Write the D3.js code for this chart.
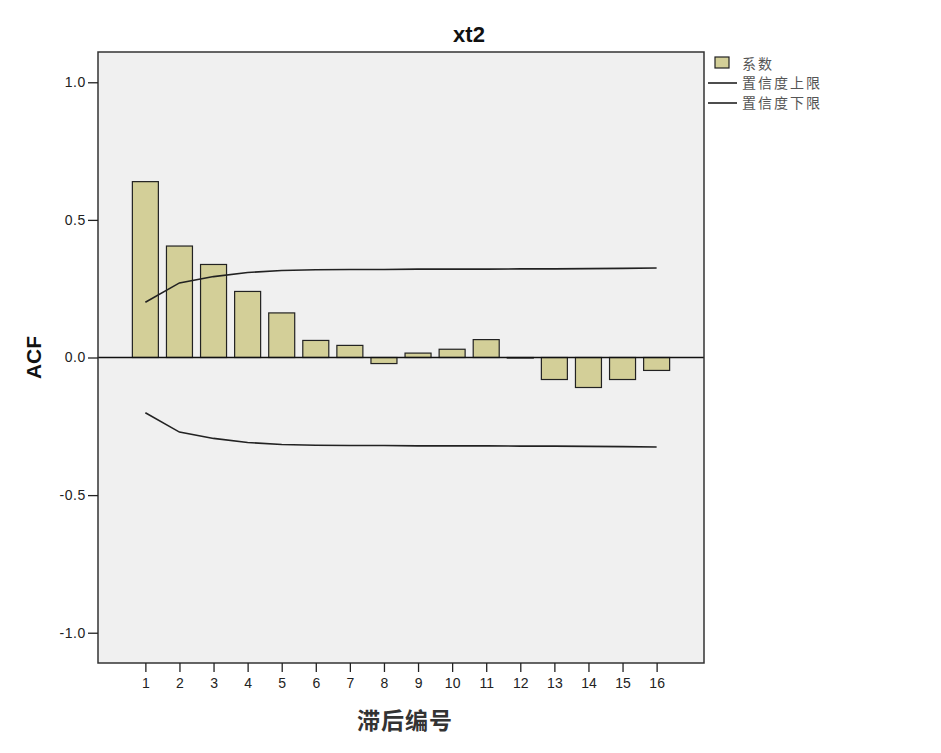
<!DOCTYPE html>
<html><head><meta charset="utf-8">
<script src="https://cdn.jsdelivr.net/npm/d3@7"></script>
<style>body{margin:0;background:#fff;} svg{display:block;}</style>
</head><body>
<svg id="chart" width="941" height="753"></svg>
<script>
const lags = [1,2,3,4,5,6,7,8,9,10,11,12,13,14,15,16];
const acf = [0.639,0.405,0.338,0.240,0.162,0.062,0.044,-0.022,0.016,0.030,0.065,-0.002,-0.080,-0.109,-0.080,-0.047];
const upper = [0.201,0.271,0.294,0.309,0.316,0.319,0.320,0.320,0.321,0.321,0.321,0.322,0.322,0.323,0.324,0.325];
const lower = [-0.201,-0.271,-0.294,-0.309,-0.316,-0.319,-0.320,-0.320,-0.321,-0.321,-0.321,-0.322,-0.322,-0.323,-0.324,-0.325];
const yTicks = [-1.0,-0.5,0.0,0.5,1.0];
const legendLabels = ["系数","置信度上限","置信度下限"];
const title = "xt2", xTitle = "滞后编号", yTitle = "ACF";

const svg = d3.select("#chart");
const L = 98, R = 704, T = 52, B = 663;
const x = d3.scaleLinear().domain([1-1.39, 16+1.39]).range([L, R]);
const y = d3.scaleLinear().domain([-1.11, 1.11]).range([B, T]);
const barW = 26;
const fill = "#d3cf98";

svg.append("rect").attr("x", L).attr("y", T).attr("width", R-L).attr("height", B-T)
  .attr("fill", "#f0f0f0");

// bars
svg.append("g").selectAll("rect").data(lags).join("rect")
  .attr("x", (d) => x(d) - barW/2)
  .attr("y", (d,i) => y(Math.max(0, acf[i])))
  .attr("width", barW)
  .attr("height", (d,i) => Math.abs(y(acf[i]) - y(0)))
  .attr("fill", fill).attr("stroke", "#222").attr("stroke-width", 1.2);

// zero line
svg.append("line").attr("x1", L).attr("x2", R).attr("y1", y(0)).attr("y2", y(0))
  .attr("stroke", "#111").attr("stroke-width", 1.6);

// confidence lines
const line = d3.line().x((d) => x(d[0])).y((d) => y(d[1]));
[upper, lower].forEach(arr => {
  svg.append("path").datum(lags.map((l,i) => [l, arr[i]])).attr("d", line)
    .attr("fill", "none").attr("stroke", "#222").attr("stroke-width", 1.6);
});

// frame
svg.append("rect").attr("x", L).attr("y", T).attr("width", R-L).attr("height", B-T)
  .attr("fill", "none").attr("stroke", "#333").attr("stroke-width", 1.5);

// axes
const yAxis = d3.axisLeft(y).tickValues(yTicks).tickFormat(d => d.toFixed(1)).tickSize(10).tickPadding(2);
const gy = svg.append("g").attr("transform", `translate(${L},0)`).call(yAxis);
gy.select(".domain").remove();
gy.selectAll("line").attr("stroke", "#222").attr("stroke-width", 1.3);
gy.selectAll("text").attr("font-family", "Liberation Sans, Arial, sans-serif").attr("font-size", 14)
  .attr("letter-spacing", 0.6).attr("fill", "#222");

const xAxis = d3.axisBottom(x).tickValues(lags).tickFormat(d3.format("d")).tickSize(9).tickPadding(6);
const gx = svg.append("g").attr("transform", `translate(0,${B})`).call(xAxis);
gx.select(".domain").remove();
gx.selectAll("line").attr("stroke", "#222").attr("stroke-width", 1.3);
gx.selectAll("text").attr("font-family", "Liberation Sans, Arial, sans-serif").attr("font-size", 14).attr("fill", "#222");

// titles
svg.append("text").attr("x", 469).attr("y", 42).attr("text-anchor", "middle")
  .attr("font-family", "Liberation Sans, Arial, sans-serif").attr("font-weight", "bold").attr("font-size", 22)
  .attr("fill", "#111").text(title);
svg.append("text").attr("x", 405).attr("y", 729).attr("text-anchor", "middle")
  .attr("font-family", "Noto Sans CJK SC, sans-serif").attr("font-weight", "bold").attr("font-size", 23)
  .attr("letter-spacing", 1).attr("fill", "#333").text(xTitle);
svg.append("text").attr("transform", `translate(41,${y(0)}) rotate(-90)`).attr("text-anchor", "middle")
  .attr("font-family", "Liberation Sans, Arial, sans-serif").attr("font-weight", "bold").attr("font-size", 21)
  .attr("fill", "#111").text(yTitle);

// legend
const lg = svg.append("g").attr("font-family", "Noto Sans CJK SC, sans-serif").attr("font-size", 14)
  .attr("letter-spacing", 2).attr("fill", "#555");
lg.append("rect").attr("x", 715).attr("y", 57).attr("width", 14).attr("height", 11)
  .attr("fill", fill).attr("stroke", "#222").attr("stroke-width", 1.2);
lg.append("text").attr("x", 742).attr("y", 69).text(legendLabels[0]);
[1,2].forEach((k, j) => {
  const yy = 83 + j*20;
  lg.append("line").attr("x1", 708).attr("x2", 737).attr("y1", yy).attr("y2", yy).attr("stroke", "#222").attr("stroke-width", 1.6);
  lg.append("text").attr("x", 742).attr("y", yy + 5).text(legendLabels[k]);
});
</script>
</body></html>
